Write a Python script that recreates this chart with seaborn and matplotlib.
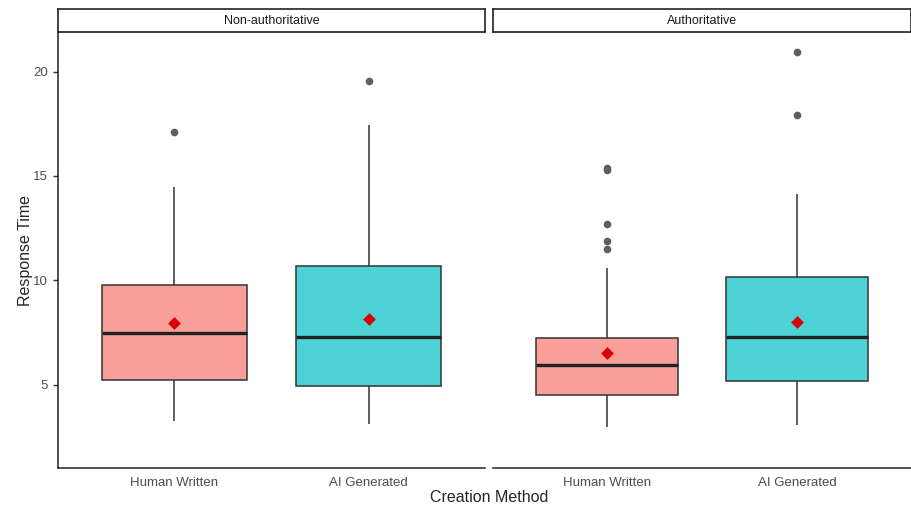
import pandas as pd
import matplotlib
matplotlib.use("Agg")
import matplotlib.pyplot as plt
import seaborn as sns

# values (five-number summaries per box)
panels = ["Non-authoritative", "Authoritative"]
methods = ["Human Written", "AI Generated"]
whisker_low = [3.23, 3.10, 2.95, 3.08]
q1 = [5.21, 4.94, 4.49, 5.19]
median = [7.48, 7.27, 5.94, 7.27]
q3 = [9.76, 10.67, 7.25, 10.16]
whisker_high = [14.47, 17.44, 10.59, 14.15]
means = [7.96, 8.16, 6.50, 7.99]
# outliers: (panel, method, value)
outlier_panel = ["Non-authoritative", "Non-authoritative", "Authoritative", "Authoritative",
                 "Authoritative", "Authoritative", "Authoritative", "Authoritative", "Authoritative"]
outlier_method = ["Human Written", "AI Generated", "Human Written", "Human Written",
                  "Human Written", "Human Written", "Human Written", "AI Generated", "AI Generated"]
outlier_value = [17.09, 19.55, 15.30, 15.40, 12.70, 11.87, 11.50, 17.92, 20.96]

# build long tables
rows = []
i = 0
for p in panels:
    for m in methods:
        for v in [whisker_low[i], q1[i], median[i], q3[i], whisker_high[i]]:
            rows.append({"panel": p, "method": m, "value": v})
        i += 1
box_df = pd.DataFrame(rows)
mean_df = pd.DataFrame({"panel": [p for p in panels for m in methods],
                        "method": [m for p in panels for m in methods],
                        "value": means})
out_df = pd.DataFrame({"panel": outlier_panel, "method": outlier_method, "value": outlier_value})

sns.set_style("white")
plt.rcParams['font.family'] = ['Liberation Sans', 'DejaVu Sans']

fills = {"Human Written": "#F99F99", "AI Generated": "#4DD2D5"}
edge = "#333333"
tick_col = "#4D4D4D"

fig = plt.figure(figsize=(9.12, 5.08), dpi=100)
fig.patch.set_facecolor("white")

W, H = 912, 508
lefts = [58, 493]
rights = [485, 911]
ax_top, ax_bot = 32, 468
strip_top = 9

for k, p in enumerate(panels):
    ax = fig.add_axes([lefts[k] / W, 1 - ax_bot / H, (rights[k] - lefts[k]) / W, (ax_bot - ax_top) / H])
    d = box_df[box_df.panel == p]
    sns.boxplot(data=d, x="method", y="value", hue="method", order=methods, hue_order=methods,
                palette=fills, saturation=1, width=0.75, showfliers=False, showcaps=False, whis=10,
                linecolor=edge, linewidth=1.1,
                medianprops={"linewidth": 2.4, "color": "#222222"}, legend=False, ax=ax)
    o = out_df[out_df.panel == p]
    sns.stripplot(data=o, x="method", y="value", order=methods, jitter=False, color="#5E5E5E",
                  size=5.5, linewidth=0, ax=ax)
    mm = mean_df[mean_df.panel == p]
    sns.stripplot(data=mm, x="method", y="value", order=methods, jitter=False, color="#DD0000",
                  marker="D", size=6.5, linewidth=0, ax=ax, zorder=5)

    ax.set_xlim(-0.6, 1.6)
    ax.set_ylim(1.0, 21.9)
    ax.set_xlabel("")
    ax.set_ylabel("")
    for s in ["top", "right"]:
        ax.spines[s].set_visible(False)
    ax.spines["bottom"].set_color("#222222")
    ax.spines["bottom"].set_linewidth(1.1)
    ax.tick_params(axis="x", colors="#333333", labelcolor=tick_col, labelsize=9.5, length=3.5, width=1, pad=3)
    if k == 0:
        ax.spines["left"].set_color("#222222")
        ax.spines["left"].set_linewidth(1.1)
        ax.set_yticks([5, 10, 15, 20])
        ax.tick_params(axis="y", colors="#333333", labelcolor=tick_col, labelsize=9.5, length=3.5, width=1, left=True)
    else:
        ax.spines["left"].set_visible(False)
        ax.set_yticks([5, 10, 15, 20])
        ax.tick_params(axis="y", left=False, labelleft=False)

    # facet strip
    sax = fig.add_axes([lefts[k] / W, 1 - ax_top / H, (rights[k] - lefts[k]) / W, (ax_top - strip_top) / H])
    sax.set_xticks([])
    sax.set_yticks([])
    for s in sax.spines.values():
        s.set_color("#222222")
        s.set_linewidth(1.2)
    sax.text(0.5, 0.5, p, ha="center", va="center", fontsize=9, color="#1A1A1A", transform=sax.transAxes)

fig.text(489 / W, 1 - 497 / H, "Creation Method", ha="center", va="center", fontsize=11.5)
fig.text(26 / W, 1 - 250 / H, "Response Time", ha="center", va="center", rotation=90, fontsize=11.5)

fig.savefig("out.png", dpi=100, facecolor="white")
